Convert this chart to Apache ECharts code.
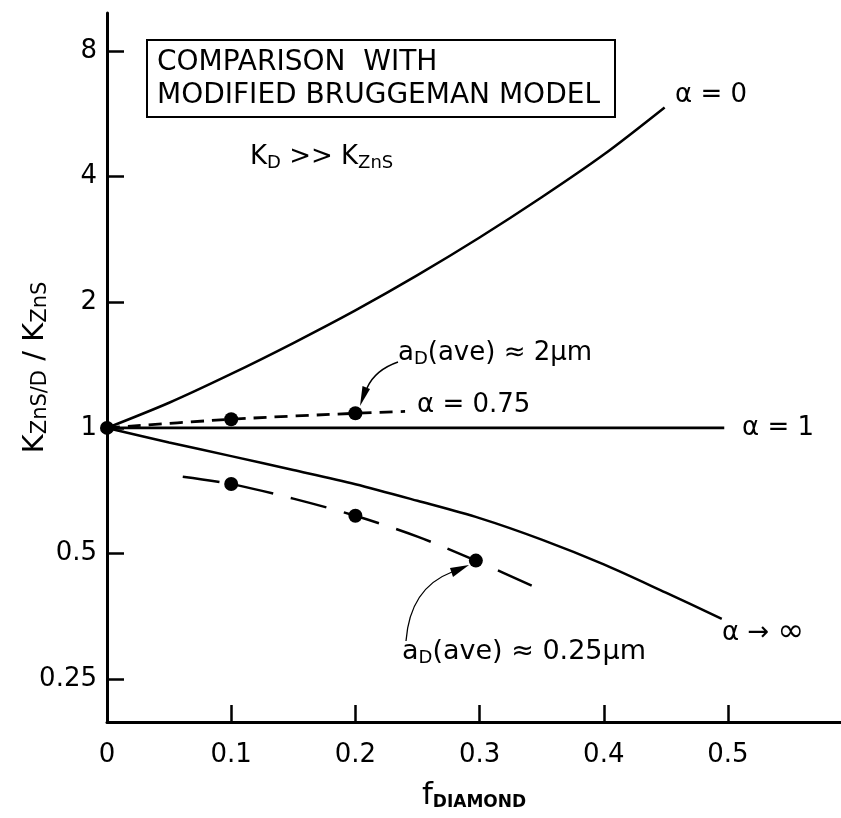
<!DOCTYPE html>
<html>
<head>
<meta charset="utf-8">
<script src="https://cdn.jsdelivr.net/npm/echarts@6/dist/echarts.min.js"></script>
<style>
  html, body { margin: 0; padding: 0; background: #fff; }
  #chart { width: 841px; height: 818px; }
</style>
</head>
<body>
<div id="chart"></div>
<script>
// tick labels
const xTicks = [0, 0.1, 0.2, 0.3, 0.4, 0.5];
const yTicks = [0.25, 0.5, 1, 2, 4, 8];

// alpha = 0 curve
const fAlpha0 = [0, 0.05, 0.1, 0.15, 0.2, 0.25, 0.3, 0.35, 0.4, 0.449];
const kAlpha0 = [1, 1.149, 1.347, 1.597, 1.912, 2.322, 2.858, 3.568, 4.516, 5.856];

// alpha = 1 line
const fAlpha1 = [0, 0.497];
const kAlpha1 = [1, 1];

// alpha = 0.75 dashed (2 um)
const fAlpha075 = [0, 0.1, 0.2, 0.24];
const kAlpha075 = [1, 1.049, 1.084, 1.095];

// alpha -> infinity curve
const fAlphaInf = [0, 0.05, 0.1, 0.15, 0.2, 0.25, 0.3, 0.35, 0.4, 0.45, 0.495];
const kAlphaInf = [1, 0.923, 0.856, 0.793, 0.733, 0.669, 0.608, 0.540, 0.471, 0.403, 0.349];

// 0.25 um dashed curve
const fSmall = [0.061, 0.1, 0.15, 0.2, 0.25, 0.297, 0.348];
const kSmall = [0.764, 0.734, 0.677, 0.616, 0.549, 0.481, 0.411];

// measured points
const fDots = [0, 0.1, 0.2, 0.1, 0.2, 0.297];
const kDots = [1, 1.049, 1.084, 0.734, 0.616, 0.481];

const zip = (xs, ys) => xs.map((x, i) => [x, ys[i]]);

const FONT = 'DejaVu Sans';
const chart = echarts.init(document.getElementById('chart'));

const lineStyle = { color: '#000', width: 2.5 };

chart.setOption({
  backgroundColor: '#fff',
  animation: false,
  grid: { left: 107, right: 0, top: 13, bottom: 96, outerBoundsMode: 'none', containLabel: false },
  xAxis: {
    type: 'value',
    min: 0,
    max: 0.591,
    name: '{f|f}{s|DIAMOND}',
    nameLocation: 'middle',
    nameGap: 58,
    nameTextStyle: {
      rich: {
        f: { fontFamily: FONT, fontSize: 31, color: '#000' },
        s: { fontFamily: FONT, fontSize: 17, fontWeight: 'bold', color: '#000', padding: [14, 0, 0, 0] }
      }
    },
    axisLine: { lineStyle: { color: '#000', width: 3 } },
    axisTick: { inside: true, length: 17, lineStyle: { color: '#000', width: 2.5 }, customValues: xTicks },
    axisLabel: {
      customValues: xTicks,
      margin: 20,
      fontFamily: FONT, fontSize: 26, color: '#000',
      formatter: v => String(v)
    },
    splitLine: { show: false }
  },
  yAxis: {
    type: 'log',
    logBase: 2,
    min: 0.1975,
    max: 9.86,
    name: '{k|K}{s|ZnS/D}{k| / K}{s|ZnS}',
    nameLocation: 'middle',
    nameRotate: 90,
    nameGap: 56,
    nameMoveOverlap: false,
    nameTextStyle: {
      rich: {
        k: { fontFamily: FONT, fontSize: 29, color: '#000' },
        s: { fontFamily: FONT, fontSize: 21, color: '#000', padding: [10, 0, 0, 0] }
      }
    },
    axisLine: { show: true, lineStyle: { color: '#000', width: 3 } },
    axisTick: { inside: true, length: 17, lineStyle: { color: '#000', width: 2.5 }, customValues: yTicks },
    axisLabel: {
      customValues: yTicks,
      margin: 10,
      fontFamily: FONT, fontSize: 26, color: '#000',
      formatter: v => String(+v.toFixed(2))
    },
    splitLine: { show: false }
  },
  series: [
    { name: 'alpha0', type: 'line', data: zip(fAlpha0, kAlpha0), smooth: 0.3, showSymbol: false, lineStyle },
    { name: 'alpha1', type: 'line', data: zip(fAlpha1, kAlpha1), showSymbol: false, lineStyle: { color: '#000', width: 2.8 } },
    { name: 'alpha075', type: 'line', data: zip(fAlpha075, kAlpha075), smooth: 0.3, showSymbol: false,
      lineStyle: { color: '#000', width: 2.8, type: [13, 8] } },
    { name: 'alphaInf', type: 'line', data: zip(fAlphaInf, kAlphaInf), smooth: 0.3, showSymbol: false, lineStyle },
    { name: 'small', type: 'line', data: zip(fSmall, kSmall), smooth: 0.3, showSymbol: false,
      lineStyle: { color: '#000', width: 2.5, type: [37, 18] } },
    { name: 'dots', type: 'scatter', data: zip(fDots, kDots), symbol: 'circle', symbolSize: 14,
      itemStyle: { color: '#000', opacity: 1 }, z: 5 }
  ]
});

// annotations
const txt = (x, y, text, rich, size) => ({
  type: 'text', x, y, z: 10,
  style: { text, rich, fill: '#000', font: `${size || 26}px "${FONT}"`, verticalAlign: 'middle', align: 'left' }
});
const sub = { fontFamily: FONT, fontSize: 18, color: '#000', padding: [12, 0, 0, 0] };
const main = { fontFamily: FONT, fontSize: 26, color: '#000' };
const mainL = { fontFamily: FONT, fontSize: 27, color: '#000' };

chart.setOption({
  graphic: [
    { type: 'rect', shape: { x: 147, y: 40, width: 468, height: 77 }, style: { fill: 'none', stroke: '#000', lineWidth: 2 } },
    txt(157, 63, 'COMPARISON  WITH', null, 28),
    txt(157, 96, 'MODIFIED BRUGGEMAN MODEL', null, 28),
    txt(250, 157, '{m|K}{s|D}{m| >> K}{s|ZnS}', { m: main, s: sub }),
    txt(675, 95, 'α = 0'),
    txt(398, 353, '{m|a}{s|D}{m|(ave) ≈ 2μm}', { m: main, s: sub }),
    txt(417, 405, 'α = 0.75'),
    txt(742, 428, 'α = 1'),
    txt(722, 633, '{m|α → }{i|∞}', { m: main, i: { fontFamily: FONT, fontSize: 32, color: '#000' } }),
    txt(402, 652, '{m|a}{s|D}{m|(ave) ≈ 0.25μm}', { m: mainL, s: sub }),
    { type: 'bezierCurve', shape: { x1: 398, y1: 362, cpx1: 375, cpy1: 370, x2: 367, y2: 388 },
      style: { stroke: '#000', lineWidth: 1.5, fill: 'none' } },
    { type: 'polygon', shape: { points: [[360, 406], [362.5, 386], [370, 389]] }, style: { fill: '#000' } },
    { type: 'bezierCurve', shape: { x1: 406, y1: 641, cpx1: 410, cpy1: 588, x2: 452, y2: 572 },
      style: { stroke: '#000', lineWidth: 1.3, fill: 'none' } },
    { type: 'polygon', shape: { points: [[469, 565], [450, 568], [453, 577]] }, style: { fill: '#000' } }
  ]
});
</script>
</body>
</html>
